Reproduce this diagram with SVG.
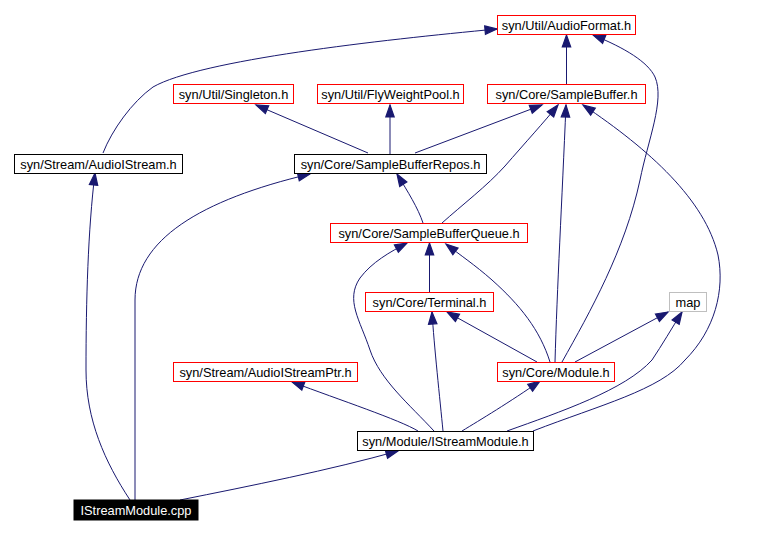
<svg xmlns="http://www.w3.org/2000/svg" width="770" height="534" viewBox="0 0 770 534">
<style>
.n rect{fill:#fff;stroke:#f00;stroke-width:1}
.n.k rect{stroke:#000}
.n.g rect{stroke:#bfbfbf}
.n text{font-family:"Liberation Sans",Arial,sans-serif;font-size:12.8px;fill:#000;text-anchor:middle}
.n.c rect{fill:#000;stroke:#000}
.n.c text{fill:#fff}
.e path{fill:none;stroke:#191970;stroke-width:1;marker-end:url(#ah)}
</style>
<defs>
<marker id="ah" markerUnits="userSpaceOnUse" markerWidth="12" markerHeight="10" refX="10" refY="3.5" orient="auto" viewBox="0 0 10 7" overflow="visible">
<path d="M0,0 L10,3.5 L0,7 z" fill="#191970" stroke="#191970"/>
</marker>
</defs>
<rect width="770" height="534" fill="#fff"/>
<g id="edges" class="e">
<path d="M103,153 C112,130 132,102 153,87 C200,60 380,40 497,29"/>
<path d="M368,153 L256,105"/>
<path d="M390,154 L390,105"/>
<path d="M415,153 L542,105"/>
<path d="M442,223 C462,205 487,186 505,166 C525,143 545,121 558,105"/>
<path d="M423,223 C418,208 408,192 397,174"/>
<path d="M555,362 C557,290 562,200 566,105"/>
<path d="M562,362 C590,312 625,250 640,180 C648,140 665,100 655,77 C648,62 625,48 593,35"/>
<path d="M550,362 C540,330 520,305 492,280 C475,265 460,255 446,244"/>
<path d="M533,431 C600,405 660,390 685,360 C715,330 725,290 718,255 C705,200 650,150 583,105"/>
<path d="M507,431 C560,412 625,390 652,360 C662,345 672,328 682,312"/>
<path d="M575,362 L668,312"/>
<path d="M537,362 L447,312"/>
<path d="M429.5,293 L429.5,243"/>
<path d="M443,431 C440,400 434,345 432,312"/>
<path d="M462,431 C480,420 510,402 540,381"/>
<path d="M434,431 C410,405 380,380 370,350 C360,320 345,300 360,278 C372,262 390,252 407,243"/>
<path d="M418,431 C400,420 340,400 292,382"/>
<path d="M130,500 C105,462 86,420 86,370 C86,300 88,230 95,173"/>
<path d="M135,500 L135,300 C135,240 200,200 310,174"/>
<path d="M180,500 C250,486 330,470 398,451"/>
<path d="M566.5,84 L566.5,35"/>
</g>
<g id="n_audioformat" class="n"><rect x="497.5" y="15.5" width="138" height="19"/><text x="566.5" y="29.5">syn/Util/AudioFormat.h</text></g>
<g id="n_singleton" class="n"><rect x="173.5" y="84.5" width="120" height="19"/><text x="233.5" y="98.5">syn/Util/Singleton.h</text></g>
<g id="n_flyweightpool" class="n"><rect x="317.5" y="84.5" width="146" height="19"/><text x="390.5" y="98.5">syn/Util/FlyWeightPool.h</text></g>
<g id="n_samplebuffer" class="n"><rect x="487.5" y="84.5" width="158" height="19"/><text x="566.5" y="98.5">syn/Core/SampleBuffer.h</text></g>
<g id="n_audioistream" class="n k"><rect x="14.5" y="154.5" width="168" height="19"/><text x="98.5" y="168.5">syn/Stream/AudioIStream.h</text></g>
<g id="n_samplebufferrepos" class="n k"><rect x="294.5" y="154.5" width="192" height="19"/><text x="390.5" y="168.5">syn/Core/SampleBufferRepos.h</text></g>
<g id="n_samplebufferqueue" class="n"><rect x="330.5" y="223.5" width="197" height="19"/><text x="429" y="237.5">syn/Core/SampleBufferQueue.h</text></g>
<g id="n_terminal" class="n"><rect x="365.5" y="292.5" width="128" height="19"/><text x="429.5" y="306.5">syn/Core/Terminal.h</text></g>
<g id="n_map" class="n g"><rect x="669.5" y="292.5" width="37" height="19"/><text x="688" y="306.5">map</text></g>
<g id="n_audioistreamptr" class="n"><rect x="173.5" y="362.5" width="184" height="19"/><text x="265.5" y="376.5">syn/Stream/AudioIStreamPtr.h</text></g>
<g id="n_module" class="n"><rect x="497.5" y="362.5" width="117" height="19"/><text x="556" y="376.5">syn/Core/Module.h</text></g>
<g id="n_istreammodule_h" class="n k"><rect x="357.5" y="431.5" width="176" height="19"/><text x="445.5" y="445.5">syn/Module/IStreamModule.h</text></g>
<g id="n_istreammodule_cpp" class="n c"><rect x="74" y="500" width="124" height="20"/><text x="136" y="514.5">IStreamModule.cpp</text></g>
</svg>
